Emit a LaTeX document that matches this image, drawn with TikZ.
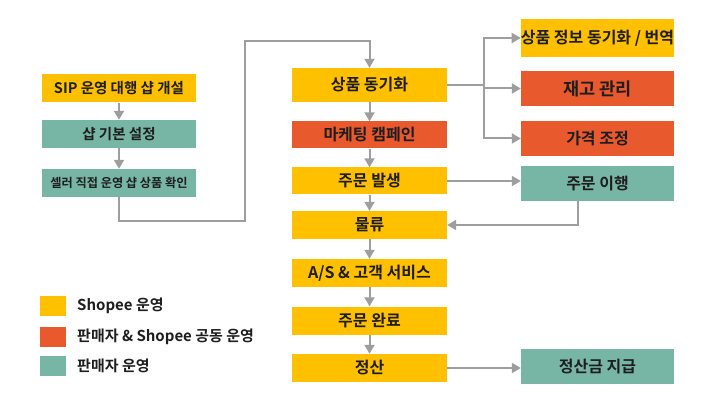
\documentclass[tikz,border=0pt]{standalone}
\usepackage{fontspec}
\setmainfont{Noto Sans CJK KR}[BoldFont={Noto Sans CJK KR Bold}]
\usetikzlibrary{arrows.meta,positioning,calc}
\definecolor{shopee}{HTML}{FFC000}
\definecolor{joint}{HTML}{E9592E}
\definecolor{seller}{HTML}{77B5A5}
\definecolor{arrowgray}{HTML}{9E9E9E}
\definecolor{txt}{HTML}{1E1E1E}

\begin{document}
\begin{tikzpicture}[x=1pt, y=-1pt,
  box/.style={rectangle, inner sep=0pt, text=txt, font=\bfseries\fontsize{16}{18}\selectfont, align=center},
  leftbox/.style={box, minimum width=154pt, minimum height=28pt, font=\bfseries\fontsize{14.5}{16}\selectfont},
  midbox/.style={box, minimum width=155pt, minimum height=28pt},
  rightbox/.style={box, minimum width=153pt, minimum height=35pt},
  swatch/.style={rectangle, inner sep=0pt, minimum width=26pt, minimum height=20pt},
  legtext/.style={anchor=west, inner sep=0pt, text=txt, font=\bfseries\fontsize{15}{17}\selectfont},
  flow/.style={draw=arrowgray, line width=2pt, -{Triangle[length=9pt,width=10pt]}}
]
  \useasboundingbox (0,0) rectangle (720,414);
  % Left column
  \node[leftbox, fill=shopee] (sip) at (119,88.5) {SIP 운영 대행 샵 개설};
  \node[leftbox, fill=seller] (basic) at (119,134) {샵 기본 설정};
  \node[leftbox, fill=seller, font=\bfseries\fontsize{12.2}{14}\selectfont] (sel) at (119,183) {셀러 직접 운영 샵 상품 확인};
  % Middle column
  \node[midbox, fill=shopee, minimum height=34pt] (sync) at (369.5,85) {상품 동기화};
  \node[midbox, fill=joint, minimum height=27pt] (mkt) at (369.5,135) {마케팅 캠페인};
  \node[midbox, fill=shopee, minimum height=27pt] (order) at (369.5,181) {주문 발생};
  \node[midbox, fill=shopee] (logi) at (369.5,225) {물류};
  \node[midbox, fill=shopee] (cs) at (369.5,273) {A/S \& 고객 서비스};
  \node[midbox, fill=shopee] (done) at (369.5,320.5) {주문 완료};
  \node[midbox, fill=shopee] (settle) at (369.5,368) {정산};
  % Right column
  \node[rightbox, fill=shopee, minimum height=38pt] (info) at (597.5,38) {상품 정보 동기화 / 번역};
  \node[rightbox, fill=joint, font=\bfseries\fontsize{17.5}{19}\selectfont] (stock) at (597.5,88.5) {재고 관리};
  \node[rightbox, fill=joint] (price) at (597.5,138.5) {가격 조정};
  \node[rightbox, fill=seller] (exec) at (597.5,183.5) {주문 이행};
  \node[rightbox, fill=seller] (pay) at (597.5,366.5) {정산금 지급};
  % Legend
  \node[swatch, fill=shopee] (lg1) at (53,306) {};
  \node[swatch, fill=joint] (lg2) at (53,337) {};
  \node[swatch, fill=seller] (lg3) at (53,366) {};
  \node[legtext] at (77,306) {Shopee 운영};
  \node[legtext] at (77,337) {판매자 \& Shopee 공동 운영};
  \node[legtext] at (77,366) {판매자 운영};
  % Connectors
  \coordinate (up) at (245,41);
  \coordinate (fork) at (484,85);
  \draw[flow] (sip) -- (basic);
  \draw[flow] (basic) -- (sel);
  \draw[flow] (sel.south) -- ++(0,24) -| (up) -| (sync.north);
  \draw[flow] (sync) -- (mkt);
  \draw[flow] (mkt) -- (order);
  \draw[flow] (order) -- (logi);
  \draw[flow] (logi) -- (cs);
  \draw[flow] (cs) -- (done);
  \draw[flow] (done) -- (settle);
  \draw[draw=arrowgray, line width=2pt] (sync.east) -- (fork);
  \draw[flow] (fork) |- (info.west);
  \draw[flow] (fork) |- (stock.west);
  \draw[flow] (fork) |- (price.west);
  \draw[flow] (order.east) -- (exec.west |- order.east);
  \draw[flow] ([xshift=-20pt]exec.south) |- (logi.east);
  \draw[flow] (settle.east) -- (pay.west |- settle.east);
\end{tikzpicture}
\end{document}
